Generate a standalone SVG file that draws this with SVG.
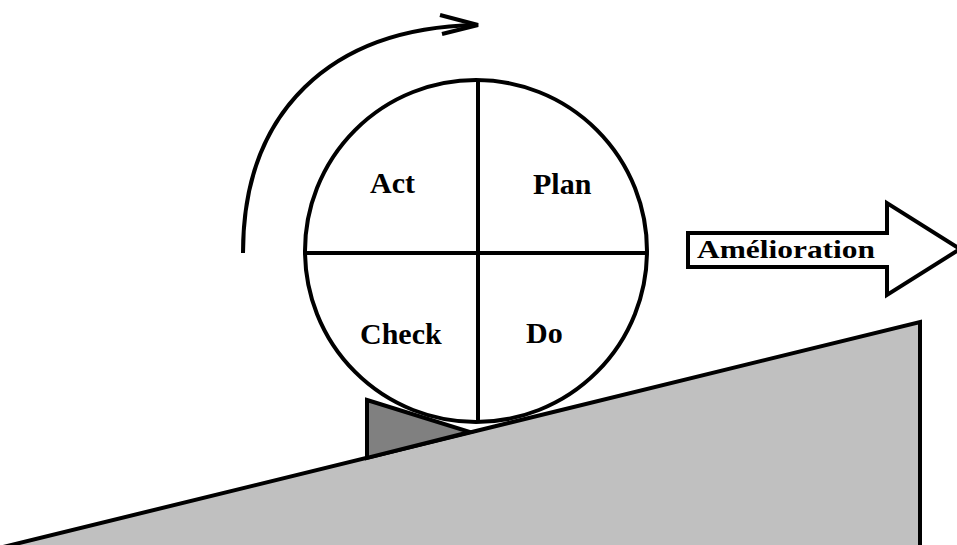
<svg xmlns="http://www.w3.org/2000/svg" width="957" height="545" viewBox="0 0 957 545">
<style>
.ln{stroke:#000;stroke-width:4;fill:none;stroke-linejoin:miter;stroke-linecap:butt}
.lbl{font-family:"Liberation Serif","Times New Roman",serif;font-weight:bold;font-size:30px;fill:#000}
</style>
<rect width="957" height="545" fill="#fff"/>
<g id="ramp">
<polygon points="-5,549 920,322 920,560 -5,560" fill="#c0c0c0" stroke="#000" stroke-width="4"/>
</g>
<g id="wedge">
<polygon points="367,400 470,432 367,458" fill="#808080" stroke="#000" stroke-width="4" stroke-linejoin="miter"/>
</g>
<g id="cycle">
<circle cx="476" cy="251" r="171" fill="#fff" stroke="#000" stroke-width="4"/>
<line class="ln" x1="478" y1="80" x2="478" y2="422"/>
<line class="ln" x1="305" y1="253" x2="647" y2="253"/>
</g>
<g id="act"><text class="lbl" x="370" y="193">Act</text></g>
<g id="plan"><text class="lbl" x="533" y="194">Plan</text></g>
<g id="check"><text class="lbl" x="360" y="344">Check</text></g>
<g id="do"><text class="lbl" x="526" y="343">Do</text></g>
<g id="amelioration">
<polygon points="688,233 887,233 887,203 960,249 887,295 887,267 688,267" fill="#fff" stroke="#000" stroke-width="4"/>
<text x="697" y="258" font-family="Liberation Serif, Times New Roman, serif" font-weight="bold" font-size="25" textLength="178" lengthAdjust="spacingAndGlyphs">Amélioration</text>
</g>
<g id="connectors">
<path class="ln" d="M243,253 C243,112 330,28 476,25"/>
<polyline class="ln" points="440,15 478,25 442,34"/>
</g>
</svg>
